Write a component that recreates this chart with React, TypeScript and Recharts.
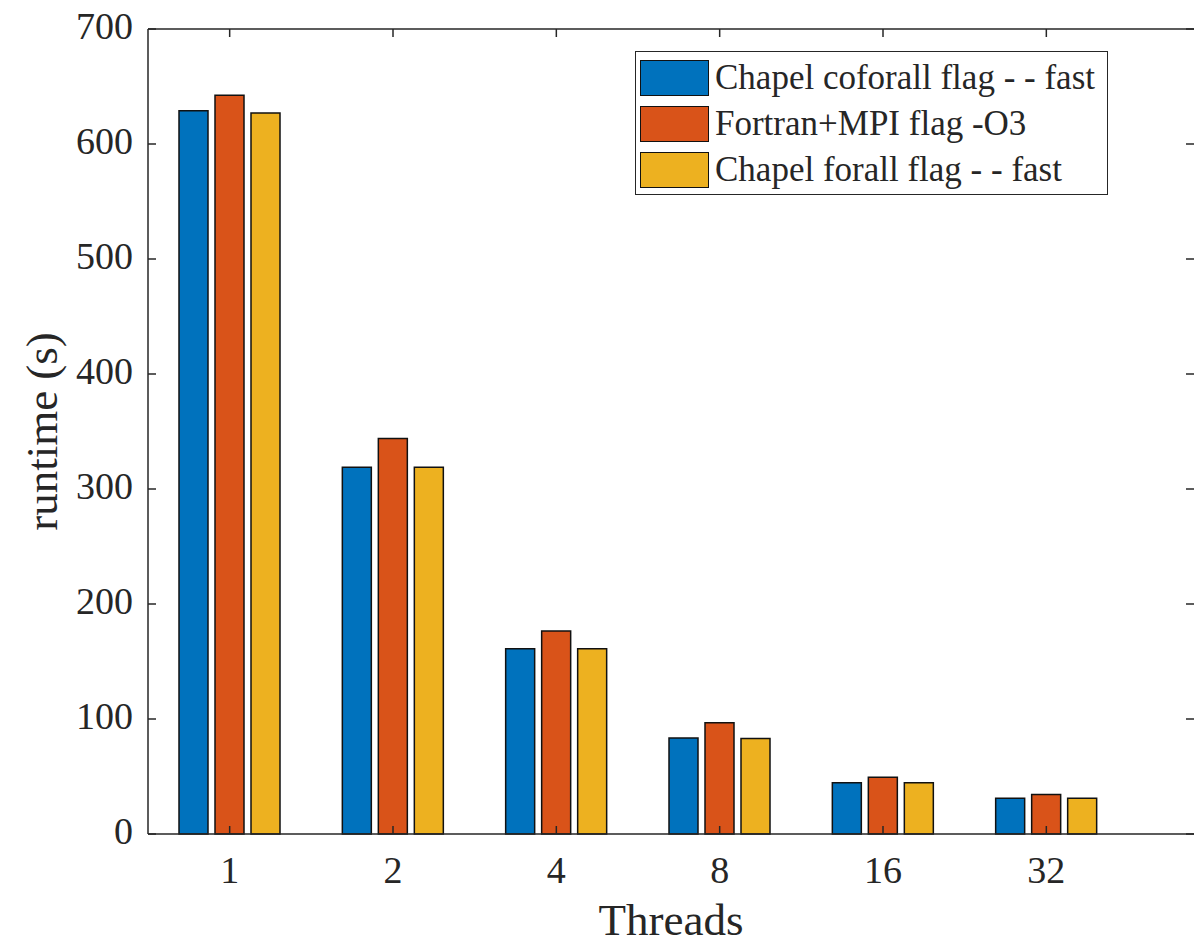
import React from 'react';
import { BarChart, Bar, XAxis, YAxis, ReferenceLine } from 'recharts';

// data
const threads = ['1', '2', '4', '8', '16', '32'];
const chapelCoforall = [629, 319, 161, 83.4, 44.6, 31];
const fortranMpi = [642.5, 344, 176.5, 96.8, 49.4, 34.4];
const chapelForall = [627, 319, 161, 83, 44.6, 31];
const yTicks = [0, 100, 200, 300, 400, 500, 600, 700];

const seriesNames = [
  'Chapel coforall flag - - fast',
  'Fortran+MPI flag -O3',
  'Chapel forall flag - - fast',
];
const seriesKeys = ['coforall', 'fortran', 'forall'];
const colors = ['#0072BD', '#D95319', '#EDB120'];

const data = threads.map((t, i) => ({
  name: t,
  coforall: chapelCoforall[i],
  fortran: fortranMpi[i],
  forall: chapelForall[i],
}));

const W = 1194;
const H = 947;
const PLOT_LEFT = 148;
const PLOT_TOP = 29;
const PLOT_BOTTOM = 834;
const AXIS = '#262626';
const FONT = '"Liberation Serif", "DejaVu Serif", serif';

// left labels + inward ticks on both sides (box on)
const LeftTick = (props: any) => {
  const { x, y, payload } = props;
  return (
    <g>
      <line x1={PLOT_LEFT} x2={PLOT_LEFT + 8} y1={y} y2={y} stroke={AXIS} strokeWidth={1.5} />
      <line x1={W - 8} x2={W} y1={y} y2={y} stroke={AXIS} strokeWidth={1.5} />
      <text x={x} y={y - 3} textAnchor="end" dominantBaseline="central" fontSize={38} fontFamily={FONT} fill={AXIS}>
        {payload.value}
      </text>
    </g>
  );
};

const BottomTick = (props: any) => {
  const { x, payload } = props;
  return (
    <g>
      <line x1={x} x2={x} y1={PLOT_BOTTOM} y2={PLOT_BOTTOM - 8} stroke={AXIS} strokeWidth={1.5} />
      <line x1={x} x2={x} y1={PLOT_TOP} y2={PLOT_TOP + 8} stroke={AXIS} strokeWidth={1.5} />
      <text x={x} y={PLOT_BOTTOM + 49} textAnchor="middle" fontSize={38} fontFamily={FONT} fill={AXIS}>
        {payload.value}
      </text>
    </g>
  );
};

const LegendBox = () => (
  <div
    style={{
      position: 'absolute',
      left: 635,
      top: 51,
      width: 473,
      height: 144,
      boxSizing: 'border-box',
      border: `1.5px solid ${AXIS}`,
      background: '#fff',
      padding: '3px 4px',
    }}
  >
    {seriesNames.map((n, i) => (
      <div key={n} style={{ display: 'flex', alignItems: 'center', height: 46 }}>
        <span
          style={{
            width: 69,
            height: 36,
            boxSizing: 'border-box',
            background: colors[i],
            border: '1.5px solid #111',
            marginRight: 6,
            flex: 'none',
          }}
        />
        <span style={{ fontFamily: FONT, fontSize: 35, color: AXIS, whiteSpace: 'nowrap', lineHeight: '46px' }}>
          {n}
        </span>
      </div>
    ))}
  </div>
);

export default function App() {
  return (
    <div style={{ position: 'absolute', left: 0, top: 0, width: W, height: H, background: '#fff', fontFamily: FONT }}>
      <BarChart
        width={W}
        height={H}
        data={data}
        margin={{ top: PLOT_TOP, right: 0, bottom: 0, left: 0 }}
        barSize={29}
        barGap={7}
      >
        <XAxis
          dataKey="name"
          height={H - PLOT_BOTTOM}
          padding={{ left: 0, right: 66 }}
          axisLine={{ stroke: AXIS, strokeWidth: 1.5 }}
          tickLine={false}
          tickSize={0}
          tick={<BottomTick />}
          interval={0}
          label={{ value: 'Threads', position: 'insideBottom', offset: 12, fontSize: 45, fontFamily: FONT, fill: AXIS }}
        />
        <YAxis
          width={PLOT_LEFT}
          domain={[0, 700]}
          ticks={yTicks}
          interval={0}
          axisLine={{ stroke: AXIS, strokeWidth: 1.5 }}
          tickLine={false}
          tickSize={0}
          tickMargin={15}
          tick={<LeftTick />}
          label={{ value: 'runtime (s)', angle: -90, position: 'center', dx: -33, fontSize: 45, fontFamily: FONT, fill: AXIS }}
        />
        <ReferenceLine y={700} stroke={AXIS} strokeWidth={1.5} />
        {seriesKeys.map((k, i) => (
          <Bar
            key={k}
            dataKey={k}
            name={seriesNames[i]}
            fill={colors[i]}
            stroke="#111"
            strokeWidth={1.5}
            isAnimationActive={false}
          />
        ))}
      </BarChart>
      <LegendBox />
    </div>
  );
}
